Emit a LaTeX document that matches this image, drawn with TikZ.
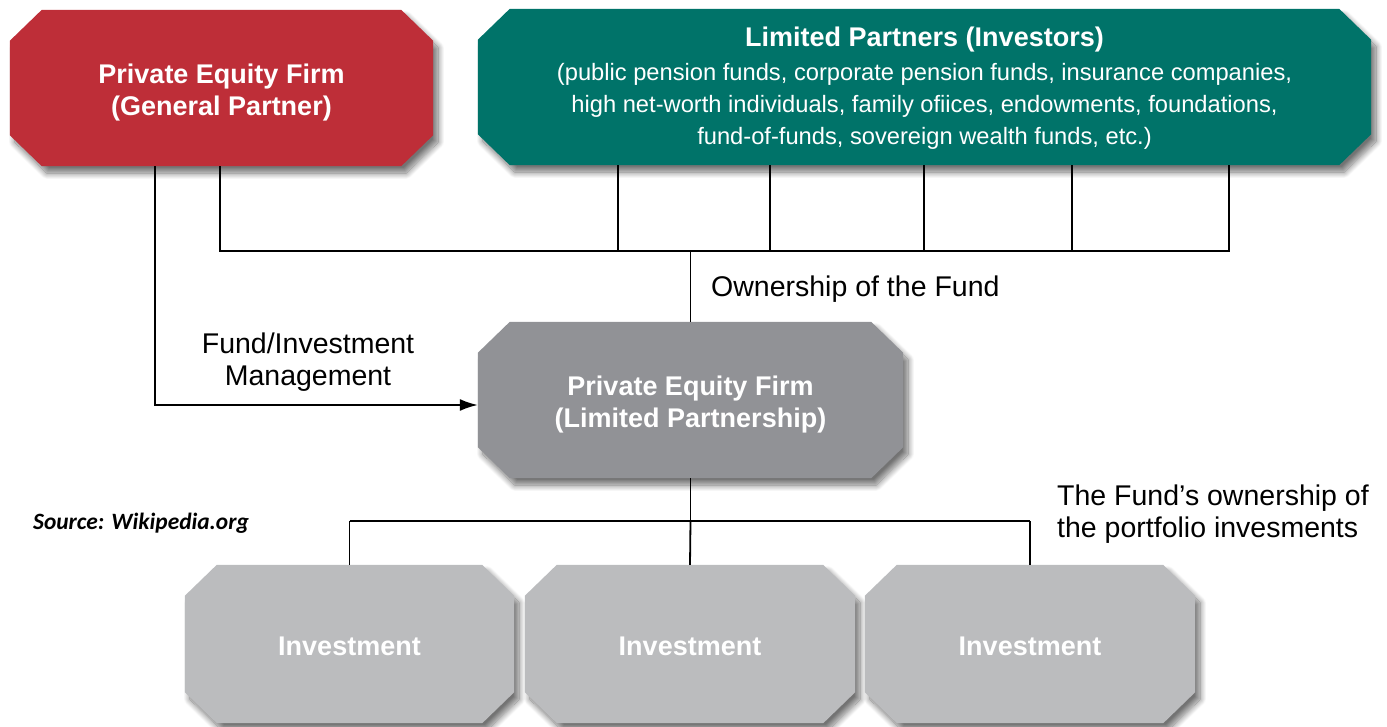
\documentclass[tikz,border=0pt]{standalone}
\usepackage{fontspec}
\setmainfont{Liberation Sans}
\newfontfamily\srcfont{Carlito}
\usetikzlibrary{shadows.blur,arrows.meta,calc,backgrounds}
\definecolor{pered}{RGB}{190,46,56}
\definecolor{pegreen}{RGB}{0,115,105}
\definecolor{pegray}{RGB}{145,146,150}
\definecolor{pelight}{RGB}{187,188,190}
\newcommand{\lpsmall}{\mdseries\fontsize{23.7}{31.5}\selectfont}
\newcommand{\octfill}[2]{%
  \fill[#2, blur shadow={shadow xshift=5pt, shadow yshift=-7pt, shadow blur radius=6pt, shadow blur steps=14, shadow opacity=55}]
    ($(#1.north west)+(32,0)$) -- ($(#1.north east)+(-32,0)$) -- ($(#1.north east)+(0,31)$)
    -- ($(#1.south east)+(0,-31)$) -- ($(#1.south east)+(-32,0)$) -- ($(#1.south west)+(32,0)$)
    -- ($(#1.south west)+(0,-31)$) -- ($(#1.north west)+(0,31)$) -- cycle;}
\begin{document}
\begin{tikzpicture}[x=1pt,y=-1pt,
  octbox/.style={rectangle, draw=none, inner sep=0pt},
  boxtext/.style={text=white, align=center, inner sep=0pt, font=\bfseries\fontsize{27}{32}\selectfont},
  conn/.style={line width=1.8pt, black},
  lbl/.style={font=\fontsize{28.5}{32}\selectfont, inner sep=0pt}]
\useasboundingbox (0,0) rectangle (1387,727);
% boxes
\node[octbox, minimum width=423pt, minimum height=156pt,
  label={[boxtext, yshift=-5pt]center:{Private Equity Firm\\(General Partner)}}] (gp) at (221.5,88) {};
\node[octbox, minimum width=893pt, minimum height=156pt,
  label={[boxtext, yshift=-1pt]center:{Limited Partners (Investors)\\[2pt]
   \lpsmall (public pension funds, corporate pension funds, insurance companies,\\
   \lpsmall high net-worth individuals, family ofiices, endowments, foundations,\\
   \lpsmall fund-of-funds, sovereign wealth funds, etc.)}}] (lp) at (924.5,87) {};
\node[octbox, minimum width=425pt, minimum height=156pt,
  label={[boxtext, yshift=-5pt]center:{Private Equity Firm\\(Limited Partnership)}}] (fund) at (690.5,400) {};
\node[octbox, minimum width=329pt, minimum height=158pt,
  label={[boxtext, yshift=-2pt]center:Investment}] (inv1) at (349.5,644) {};
\node[octbox, minimum width=330pt, minimum height=158pt,
  label={[boxtext, yshift=-2pt]center:Investment}] (inv2) at (690,644) {};
\node[octbox, minimum width=330pt, minimum height=158pt,
  label={[boxtext, yshift=-2pt]center:Investment}] (inv3) at (1030,644) {};
\begin{scope}[on background layer]
  \octfill{gp}{pered}
  \octfill{lp}{pegreen}
  \octfill{fund}{pegray}
  \octfill{inv1}{pelight}
  \octfill{inv2}{pelight}
  \octfill{inv3}{pelight}
\end{scope}
% coordinates
\coordinate (mgmt) at (155,405);
\coordinate (busL) at (220,251);
\coordinate (busR) at (1229,251);
\coordinate (busM) at (690.5,251);
\coordinate (b1) at (618,251);
\coordinate (b2) at (770,251);
\coordinate (b3) at (924,251);
\coordinate (b4) at (1072,251);
\coordinate (lowM) at (690.5,521);
\coordinate (lowL) at (inv1.north |- lowM);
\coordinate (lowR) at (inv3.north |- lowM);
% connectors
\draw[conn] (gp.south -| busL) -- (busL) -- (busR) -- (lp.south -| busR);
\foreach \c in {b1,b2,b3,b4} \draw[conn] (lp.south -| \c) -- (\c);
\draw[conn] (busM) -- (fund.north);
\draw[conn, -{Latex[length=18pt,width=12pt]}] (gp.south -| mgmt) -- (mgmt) -- (fund.west |- mgmt);
\draw[conn] (fund.south) -- (lowM);
\draw[conn] (lowL) -- (lowR);
\draw[conn] (lowL) -- (inv1.north);
\draw[conn] (lowM) -- (inv2.north);
\draw[conn] (lowR) -- (inv3.north);
% labels
\node[lbl, anchor=west] (own) at (711,289) {Ownership of the Fund};
\node[lbl, align=center] (mg) at (308,362) {Fund/Investment\\Management};
\node[lbl, align=left, anchor=west] (port) at (1057,514) {The Fund’s ownership of\\the portfolio invesments};
\node[inner sep=0pt, anchor=west, font=\srcfont\bfseries\itshape\fontsize{23.4}{28}\selectfont] (src) at (33,523) {Source: Wikipedia.org};
\end{tikzpicture}
\end{document}
